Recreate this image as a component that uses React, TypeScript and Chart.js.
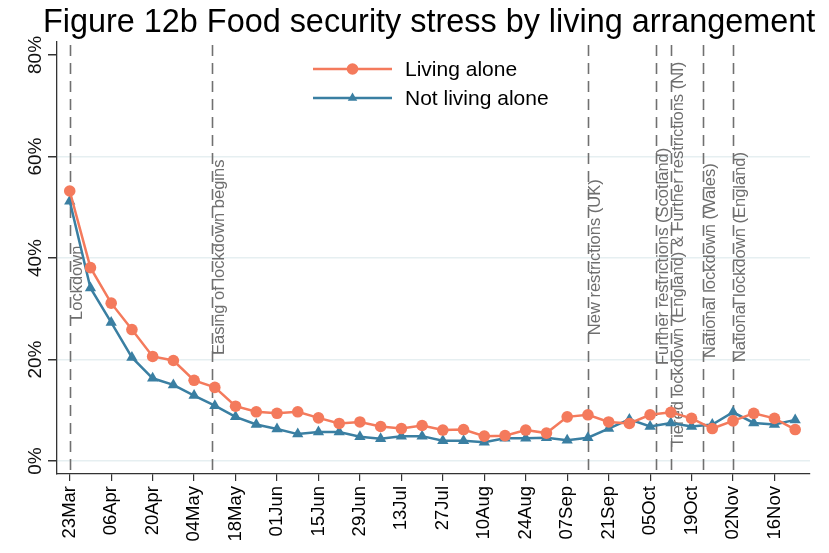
import React, { useEffect, useRef } from 'react';
import { Chart, registerables } from 'chart.js';

Chart.register(...registerables);

// ---------- data ----------
const weekDates = [
  '2020-03-23', '2020-03-30', '2020-04-06', '2020-04-13', '2020-04-20', '2020-04-27',
  '2020-05-04', '2020-05-11', '2020-05-18', '2020-05-25', '2020-06-01', '2020-06-08',
  '2020-06-15', '2020-06-22', '2020-06-29', '2020-07-06', '2020-07-13', '2020-07-20',
  '2020-07-27', '2020-08-03', '2020-08-10', '2020-08-17', '2020-08-24', '2020-08-31',
  '2020-09-07', '2020-09-14', '2020-09-21', '2020-09-28', '2020-10-05', '2020-10-12',
  '2020-10-19', '2020-10-26', '2020-11-02', '2020-11-09', '2020-11-16', '2020-11-23',
];

const livingAlone = [
  53.2, 38.1, 31.1, 25.9, 20.6, 19.8, 15.9, 14.5, 10.8, 9.7, 9.4, 9.7,
  8.5, 7.4, 7.7, 6.8, 6.4, 7.0, 6.1, 6.2, 4.9, 5.0, 6.1, 5.5,
  8.7, 9.1, 7.7, 7.4, 9.1, 9.6, 8.4, 6.4, 7.9, 9.4, 8.4, 6.2,
];

const notLivingAlone = [
  51.2, 34.1, 27.3, 20.4, 16.3, 15.0, 12.9, 10.9, 8.7, 7.2, 6.3, 5.3,
  5.7, 5.7, 4.8, 4.4, 4.9, 4.9, 4.0, 4.0, 3.7, 4.5, 4.5, 4.6,
  4.1, 4.6, 6.4, 8.2, 6.8, 7.5, 6.8, 7.2, 9.6, 7.5, 7.2, 8.1,
];

const tickDates = [
  '2020-03-23', '2020-04-06', '2020-04-20', '2020-05-04', '2020-05-18', '2020-06-01',
  '2020-06-15', '2020-06-29', '2020-07-13', '2020-07-27', '2020-08-10', '2020-08-24',
  '2020-09-07', '2020-09-21', '2020-10-05', '2020-10-19', '2020-11-02', '2020-11-16',
];
const tickLabels = [
  '23Mar', '06Apr', '20Apr', '04May', '18May', '01Jun', '15Jun', '29Jun', '13Jul',
  '27Jul', '10Aug', '24Aug', '07Sep', '21Sep', '05Oct', '19Oct', '02Nov', '16Nov',
];

const yTickValues = [0, 20, 40, 60, 80];

const eventDates = [
  '2020-03-23', '2020-05-10', '2020-09-14', '2020-10-07', '2020-10-12', '2020-10-23', '2020-11-02',
];
const eventLabels = [
  'Lockdown',
  'Easing of lockdown begins',
  'New restrictions (UK)',
  'Further restrictions (Scotland)',
  'Tiered lockdown (England) & Further restrictions (NI)',
  'National lockdown (Wales)',
  'National lockdown (England)',
];
// value (in %) where each rotated label starts
const eventLabelStart = [27.8, 20.9, 24.8, 18.9, 2.7, 20.3, 19.5];

const seriesNames = ['Living alone', 'Not living alone'];
const TITLE = 'Figure 12b Food security stress by living arrangement';

// ---------- style ----------
const ORANGE = '#f47a5c';
const BLUE = '#3a7fa2';
const FONT = "'Liberation Sans', Arial, sans-serif";
const BASE = Date.UTC(2020, 2, 23);
const toDay = (s: string) => {
  const [y, m, d] = s.split('-').map(Number);
  return Math.round((Date.UTC(y, m - 1, d) - BASE) / 86400000);
};

const overlay = {
  id: 'overlay',
  beforeDatasetsDraw(chart: any) {
    const ctx = chart.ctx;
    const xs = chart.scales.x;
    const ys = chart.scales.y;
    const area = chart.chartArea;
    ctx.save();
    eventDates.forEach((d, i) => {
      const x = Math.round(xs.getPixelForValue(toDay(d))) + 0.5;
      ctx.strokeStyle = '#707070';
      ctx.lineWidth = 1.6;
      ctx.setLineDash([11, 7]);
      ctx.beginPath();
      ctx.moveTo(x, area.top + 3);
      ctx.lineTo(x, area.bottom);
      ctx.stroke();
      ctx.setLineDash([]);
      ctx.save();
      ctx.translate(x + 11.8, ys.getPixelForValue(eventLabelStart[i]));
      ctx.rotate(-Math.PI / 2);
      ctx.fillStyle = '#6e6e6e';
      ctx.font = `16.5px ${FONT}`;
      ctx.textAlign = 'left';
      ctx.textBaseline = 'alphabetic';
      ctx.fillText(eventLabels[i], 0, 0);
      ctx.restore();
    });
    ctx.restore();
  },
  afterDraw(chart: any) {
    const ctx = chart.ctx;
    const ys = chart.scales.y;
    ctx.save();
    // title
    ctx.fillStyle = '#000';
    ctx.font = `32.4px ${FONT}`;
    ctx.textAlign = 'left';
    ctx.textBaseline = 'alphabetic';
    ctx.fillText(TITLE, 43, 32);

    // y tick labels (rotated)
    ctx.font = `19px ${FONT}`;
    ctx.fillStyle = '#111';
    yTickValues.forEach((v) => {
      ctx.save();
      ctx.translate(40.5, ys.getPixelForValue(v));
      ctx.rotate(-Math.PI / 2);
      ctx.textAlign = 'center';
      ctx.textBaseline = 'alphabetic';
      ctx.fillText(`${v}%`, 0, 0);
      ctx.restore();
    });

    // legend
    const rows = [69, 98];
    const colors = [ORANGE, BLUE];
    rows.forEach((ry, i) => {
      ctx.strokeStyle = colors[i];
      ctx.fillStyle = colors[i];
      ctx.lineWidth = 2.5;
      ctx.beginPath();
      ctx.moveTo(313, ry);
      ctx.lineTo(392, ry);
      ctx.stroke();
      ctx.beginPath();
      if (i === 0) {
        ctx.arc(352.5, ry, 5.8, 0, Math.PI * 2);
      } else {
        const r = 5.5;
        ctx.moveTo(352.5, ry - r);
        ctx.lineTo(352.5 + r * 0.866, ry + r * 0.5);
        ctx.lineTo(352.5 - r * 0.866, ry + r * 0.5);
        ctx.closePath();
      }
      ctx.fill();
      ctx.fillStyle = '#000';
      ctx.font = `21px ${FONT}`;
      ctx.textAlign = 'left';
      ctx.textBaseline = 'middle';
      ctx.fillText(seriesNames[i], 405, ry + 1);
    });
    ctx.restore();
  },
};

export default function App() {
  const ref = useRef<HTMLCanvasElement>(null);

  useEffect(() => {
    const canvas = ref.current;
    if (!canvas) return;
    const weekDays = weekDates.map(toDay);
    const tickDays = tickDates.map(toDay);

    const chart = new Chart(canvas, {
      type: 'line',
      data: {
        datasets: [
          {
            label: seriesNames[0],
            data: weekDays.map((d, i) => ({ x: d, y: livingAlone[i] })),
            borderColor: ORANGE,
            backgroundColor: ORANGE,
            borderWidth: 2.5,
            pointStyle: 'circle',
            pointRadius: 5.8,
            pointBorderWidth: 0,
            tension: 0,
          },
          {
            label: seriesNames[1],
            data: weekDays.map((d, i) => ({ x: d, y: notLivingAlone[i] })),
            borderColor: BLUE,
            backgroundColor: BLUE,
            borderWidth: 2.5,
            pointStyle: 'triangle',
            pointRadius: 6.5,
            pointBorderWidth: 0,
            tension: 0,
          },
        ],
      },
      options: {
        responsive: false,
        animation: false,
        devicePixelRatio: 1,
        layout: { padding: { top: 42, right: 19, left: 0, bottom: 0 } },
        plugins: {
          legend: { display: false },
          tooltip: { enabled: false },
          title: { display: false },
        },
        scales: {
          x: {
            type: 'linear',
            min: -4.3,
            max: 250,
            afterBuildTicks: (s: any) => {
              s.ticks = tickDays.map((v) => ({ value: v }));
            },
            afterFit: (s: any) => {
              s.height = 79;
            },
            ticks: {
              autoSkip: false,
              minRotation: 90,
              maxRotation: 90,
              padding: 5,
              color: '#000',
              font: { family: FONT, size: 18.5 },
              callback: (_v: any, i: number) => tickLabels[i],
            },
            grid: {
              display: true,
              drawOnChartArea: false,
              drawTicks: true,
              tickLength: 7,
              color: '#333',
              lineWidth: 1.2,
            },
            border: { display: true, color: '#333', width: 1.3 },
          },
          y: {
            type: 'linear',
            min: -2.56,
            max: 82.56,
            afterBuildTicks: (s: any) => {
              s.ticks = yTickValues.map((v) => ({ value: v }));
            },
            afterFit: (s: any) => {
              s.width = 57;
            },
            ticks: { display: false },
            grid: {
              display: true,
              drawOnChartArea: true,
              drawTicks: true,
              tickLength: 9,
              lineWidth: 1.5,
              color: (c: any) => (c.tick && c.tick.value === 80 ? 'rgba(0,0,0,0)' : '#e6eff1'),
              tickColor: '#333',
            },
            border: { display: true, color: '#333', width: 1.3 },
          },
        },
      },
      plugins: [overlay],
    } as any);

    return () => chart.destroy();
  }, []);

  return (
    <div style={{ position: 'absolute', left: 0, top: 0, width: 829, height: 553, background: '#fff' }}>
      <canvas ref={ref} width={829} height={553} style={{ display: 'block' }} />
    </div>
  );
}
